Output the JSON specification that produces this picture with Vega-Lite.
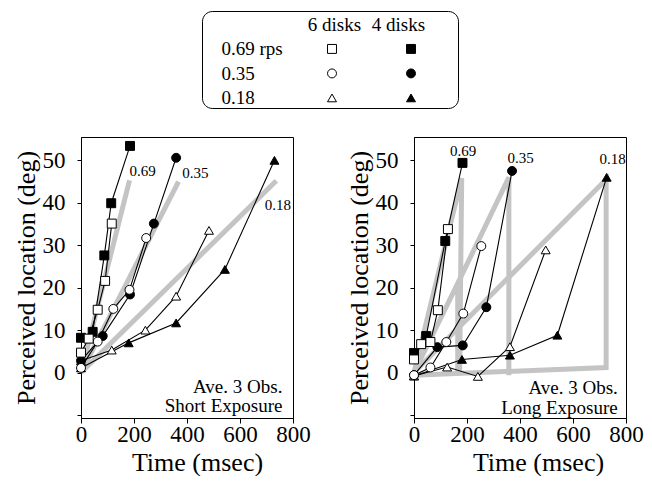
{
  "$schema": "https://vega.github.io/schema/vega-lite/v6.json",
  "padding": {"left": 12, "top": 10, "right": 5, "bottom": 0},
  "background": "white",
  "datasets": {
    "legend": [
      {"rps": "0.69", "disks": "6 disks"}, {"rps": "0.69", "disks": "4 disks"},
      {"rps": "0.35", "disks": "6 disks"}, {"rps": "0.35", "disks": "4 disks"},
      {"rps": "0.18", "disks": "6 disks"}, {"rps": "0.18", "disks": "4 disks"}
    ],
    "obs": [
      {"panel": "Short", "rps": "0.18", "disks": "4 disks", "t": 0, "loc": 1.1},
      {"panel": "Short", "rps": "0.18", "disks": "4 disks", "t": 180, "loc": 7.0},
      {"panel": "Short", "rps": "0.18", "disks": "4 disks", "t": 359, "loc": 11.7},
      {"panel": "Short", "rps": "0.18", "disks": "4 disks", "t": 543, "loc": 24.3},
      {"panel": "Short", "rps": "0.18", "disks": "4 disks", "t": 730, "loc": 50.0},
      {"panel": "Short", "rps": "0.18", "disks": "6 disks", "t": 0, "loc": 2.8},
      {"panel": "Short", "rps": "0.18", "disks": "6 disks", "t": 116, "loc": 5.3},
      {"panel": "Short", "rps": "0.18", "disks": "6 disks", "t": 243, "loc": 10.0},
      {"panel": "Short", "rps": "0.18", "disks": "6 disks", "t": 359, "loc": 18.0},
      {"panel": "Short", "rps": "0.18", "disks": "6 disks", "t": 483, "loc": 33.5},
      {"panel": "Short", "rps": "0.35", "disks": "4 disks", "t": 0, "loc": 2.8},
      {"panel": "Short", "rps": "0.35", "disks": "4 disks", "t": 82, "loc": 8.6},
      {"panel": "Short", "rps": "0.35", "disks": "4 disks", "t": 185, "loc": 18.4},
      {"panel": "Short", "rps": "0.35", "disks": "4 disks", "t": 275, "loc": 35.1},
      {"panel": "Short", "rps": "0.35", "disks": "4 disks", "t": 359, "loc": 50.6},
      {"panel": "Short", "rps": "0.35", "disks": "6 disks", "t": 0, "loc": 1.1},
      {"panel": "Short", "rps": "0.35", "disks": "6 disks", "t": 63, "loc": 7.3},
      {"panel": "Short", "rps": "0.35", "disks": "6 disks", "t": 122, "loc": 15.0},
      {"panel": "Short", "rps": "0.35", "disks": "6 disks", "t": 183, "loc": 19.5},
      {"panel": "Short", "rps": "0.35", "disks": "6 disks", "t": 246, "loc": 31.7},
      {"panel": "Short", "rps": "0.69", "disks": "4 disks", "t": 0, "loc": 8.2},
      {"panel": "Short", "rps": "0.69", "disks": "4 disks", "t": 44, "loc": 9.6},
      {"panel": "Short", "rps": "0.69", "disks": "4 disks", "t": 88, "loc": 27.6},
      {"panel": "Short", "rps": "0.69", "disks": "4 disks", "t": 114, "loc": 39.9},
      {"panel": "Short", "rps": "0.69", "disks": "4 disks", "t": 185, "loc": 53.4},
      {"panel": "Short", "rps": "0.69", "disks": "6 disks", "t": 0, "loc": 4.7},
      {"panel": "Short", "rps": "0.69", "disks": "6 disks", "t": 29, "loc": 8.0},
      {"panel": "Short", "rps": "0.69", "disks": "6 disks", "t": 63, "loc": 14.8},
      {"panel": "Short", "rps": "0.69", "disks": "6 disks", "t": 91, "loc": 21.6},
      {"panel": "Short", "rps": "0.69", "disks": "6 disks", "t": 116, "loc": 35.1},
      {"panel": "Long", "rps": "0.18", "disks": "4 disks", "t": 0, "loc": -0.8},
      {"panel": "Long", "rps": "0.18", "disks": "4 disks", "t": 181, "loc": 3.1},
      {"panel": "Long", "rps": "0.18", "disks": "4 disks", "t": 362, "loc": 4.1},
      {"panel": "Long", "rps": "0.18", "disks": "4 disks", "t": 541, "loc": 8.8},
      {"panel": "Long", "rps": "0.18", "disks": "4 disks", "t": 727, "loc": 46.0},
      {"panel": "Long", "rps": "0.18", "disks": "6 disks", "t": 0, "loc": -0.8},
      {"panel": "Long", "rps": "0.18", "disks": "6 disks", "t": 125, "loc": 1.3},
      {"panel": "Long", "rps": "0.18", "disks": "6 disks", "t": 241, "loc": -0.9},
      {"panel": "Long", "rps": "0.18", "disks": "6 disks", "t": 362, "loc": 6.1},
      {"panel": "Long", "rps": "0.18", "disks": "6 disks", "t": 497, "loc": 28.9},
      {"panel": "Long", "rps": "0.35", "disks": "4 disks", "t": 0, "loc": -0.6},
      {"panel": "Long", "rps": "0.35", "disks": "4 disks", "t": 88, "loc": 6.0},
      {"panel": "Long", "rps": "0.35", "disks": "4 disks", "t": 184, "loc": 6.4},
      {"panel": "Long", "rps": "0.35", "disks": "4 disks", "t": 273, "loc": 15.4},
      {"panel": "Long", "rps": "0.35", "disks": "4 disks", "t": 370, "loc": 47.5},
      {"panel": "Long", "rps": "0.35", "disks": "6 disks", "t": 0, "loc": -0.6},
      {"panel": "Long", "rps": "0.35", "disks": "6 disks", "t": 62, "loc": 1.2},
      {"panel": "Long", "rps": "0.35", "disks": "6 disks", "t": 122, "loc": 7.2},
      {"panel": "Long", "rps": "0.35", "disks": "6 disks", "t": 186, "loc": 13.9},
      {"panel": "Long", "rps": "0.35", "disks": "6 disks", "t": 254, "loc": 29.8},
      {"panel": "Long", "rps": "0.69", "disks": "4 disks", "t": 0, "loc": 4.6},
      {"panel": "Long", "rps": "0.69", "disks": "4 disks", "t": 46, "loc": 8.6},
      {"panel": "Long", "rps": "0.69", "disks": "4 disks", "t": 118, "loc": 31.0},
      {"panel": "Long", "rps": "0.69", "disks": "4 disks", "t": 183, "loc": 49.4},
      {"panel": "Long", "rps": "0.69", "disks": "6 disks", "t": 0, "loc": 3.1},
      {"panel": "Long", "rps": "0.69", "disks": "6 disks", "t": 27, "loc": 6.7},
      {"panel": "Long", "rps": "0.69", "disks": "6 disks", "t": 62, "loc": 7.2},
      {"panel": "Long", "rps": "0.69", "disks": "6 disks", "t": 90, "loc": 14.7},
      {"panel": "Long", "rps": "0.69", "disks": "6 disks", "t": 128, "loc": 33.8}
    ],
    "fit": [
      {"panel": "Short", "rps": "0.69", "i": 0, "t": 0, "loc": 0},
      {"panel": "Short", "rps": "0.69", "i": 1, "t": 183, "loc": 45.3},
      {"panel": "Short", "rps": "0.35", "i": 0, "t": 0, "loc": 0},
      {"panel": "Short", "rps": "0.35", "i": 1, "t": 368, "loc": 45.0},
      {"panel": "Short", "rps": "0.18", "i": 0, "t": 0, "loc": 0},
      {"panel": "Short", "rps": "0.18", "i": 1, "t": 737, "loc": 45.2},
      {"panel": "Long", "rps": "0.69", "i": 0, "t": 0, "loc": 0},
      {"panel": "Long", "rps": "0.69", "i": 1, "t": 180, "loc": 45.8},
      {"panel": "Long", "rps": "0.69", "i": 2, "t": 172, "loc": -0.6},
      {"panel": "Long", "rps": "0.35", "i": 0, "t": 0, "loc": 0},
      {"panel": "Long", "rps": "0.35", "i": 1, "t": 165, "loc": 21},
      {"panel": "Long", "rps": "0.35", "i": 2, "t": 165, "loc": -0.6},
      {"panel": "Long", "rps": "0.35", "i": 3, "t": 165, "loc": 21},
      {"panel": "Long", "rps": "0.35", "i": 4, "t": 358, "loc": 46},
      {"panel": "Long", "rps": "0.35", "i": 5, "t": 358, "loc": -0.6},
      {"panel": "Long", "rps": "0.18", "i": 0, "t": 0, "loc": 0},
      {"panel": "Long", "rps": "0.18", "i": 1, "t": 725, "loc": 45.5},
      {"panel": "Long", "rps": "0.18", "i": 2, "t": 725, "loc": 1.2},
      {"panel": "Long", "rps": "0.18", "i": 3, "t": 0, "loc": -0.6}
    ],
    "labels": [
      {"panel": "Short", "label": "0.69", "t": 183, "loc": 47.6},
      {"panel": "Short", "label": "0.35", "t": 382, "loc": 47.0},
      {"panel": "Short", "label": "0.18", "t": 693, "loc": 39.4},
      {"panel": "Long", "label": "0.69", "t": 136, "loc": 52.2},
      {"panel": "Long", "label": "0.35", "t": 353, "loc": 50.5},
      {"panel": "Long", "label": "0.18", "t": 700, "loc": 50.3}
    ],
    "notes": [
      {"panel": "Short", "label": "Ave. 3 Obs.", "t": 760, "loc": -3.3},
      {"panel": "Short", "label": "Short Exposure", "t": 760, "loc": -7.9},
      {"panel": "Long", "label": "Ave. 3 Obs.", "t": 769, "loc": -3.7},
      {"panel": "Long", "label": "Long Exposure", "t": 769, "loc": -8.3}
    ]
  },
  "vconcat": [
    {
      "hconcat": [
        {
          "width": 120,
          "height": 97,
          "view": {"stroke": null},
          "data": {"values": []},
          "mark": {"type": "point", "opacity": 0}
        },
        {
          "width": 256,
          "height": 97,
          "view": {"stroke": "black", "strokeWidth": 1, "cornerRadius": 10, "fill": "white"},
          "data": {"name": "legend"},
          "mark": {"type": "point", "filled": true, "stroke": "black", "strokeWidth": 1, "size": 80, "opacity": 1},
          "encoding": {
            "x": {"field": "disks", "type": "nominal",
              "scale": {"type": "point", "domain": ["6 disks", "4 disks"], "range": [130, 209], "padding": 0},
              "axis": {"orient": "top", "title": null, "domain": false, "ticks": false, "labelAngle": 0,
                "labelPadding": -13, "labelBaseline": "middle", "labelFontSize": 19,
                "labelOffset": {"condition": {"test": "datum.value === '4 disks'", "value": -13}, "value": 2}}},
            "y": {"field": "rps", "type": "nominal",
              "scale": {"type": "point", "domain": ["0.69", "0.35", "0.18"], "padding": 0.98, "align": 0.79},
              "axis": {"title": null, "domain": false, "ticks": false, "labelAlign": "left", "labelPadding": -19,
                "labelFontSize": 19, "minExtent": 0, "maxExtent": 0,
                "labelExpr": "datum.value === '0.69' ? '0.69 rps' : datum.label"}},
            "shape": {"field": "rps", "type": "nominal", "scale": {"domain": ["0.69", "0.35", "0.18"], "range": ["square", "circle", "triangle-up"]}, "legend": null},
            "fill": {"field": "disks", "type": "nominal", "scale": {"domain": ["6 disks", "4 disks"], "range": ["white", "black"]}, "legend": null}
          }
        }
      ],
      "spacing": 0
    },
    {
      "hconcat": [
        {
          "width": 212,
          "height": 281,
          "view": {"stroke": "black", "strokeWidth": 1},
          "encoding": {
            "x": {"field": "t", "type": "quantitative",
              "scale": {"domain": [0, 800], "nice": false, "zero": false},
              "axis": {"title": "Time (msec)", "values": [0, 200, 400, 600, 800], "tickSize": 5, "labelPadding": 0, "titlePadding": 3, "titleX": 116}},
            "y": {"field": "loc", "type": "quantitative",
              "scale": {"domain": [-10.7, 55.5], "nice": false, "zero": false},
              "axis": {"title": "Perceived location (deg)", "values": [-10, 0, 10, 20, 30, 40, 50], "tickSize": 4, "labelPadding": 12, "titlePadding": 3,
                "labelExpr": "datum.value < 0 ? '' : datum.label"}}
          },
          "layer": [
            {"data": {"name": "fit"}, "transform": [{"filter": "datum.panel === 'Short'"}],
              "mark": {"type": "line", "color": "#c4c4c4", "strokeWidth": 5, "strokeCap": "butt"},
              "encoding": {"detail": {"field": "rps"}, "order": {"field": "i", "type": "quantitative"}}},
            {"data": {"name": "obs"}, "transform": [{"filter": "datum.panel === 'Short'"}],
              "mark": {"type": "line", "color": "black", "strokeWidth": 1.1},
              "encoding": {"detail": [{"field": "rps"}, {"field": "disks"}], "order": {"field": "t", "type": "quantitative"}}},
            {"data": {"name": "obs"}, "transform": [{"filter": "datum.panel === 'Short'"}],
              "mark": {"type": "point", "filled": true, "stroke": "black", "strokeWidth": 1, "size": 80, "opacity": 1},
              "encoding": {
                "shape": {"field": "rps", "type": "nominal", "scale": {"domain": ["0.69", "0.35", "0.18"], "range": ["square", "circle", "triangle-up"]}, "legend": null},
                "fill": {"field": "disks", "type": "nominal", "scale": {"domain": ["6 disks", "4 disks"], "range": ["white", "black"]}, "legend": null}}},
            {"data": {"name": "labels"}, "transform": [{"filter": "datum.panel === 'Short'"}],
              "mark": {"type": "text", "align": "left", "baseline": "middle", "fontSize": 15, "font": "Liberation Serif", "color": "black"},
              "encoding": {"text": {"field": "label"}}},
            {"data": {"name": "notes"}, "transform": [{"filter": "datum.panel === 'Short'"}],
              "mark": {"type": "text", "align": "right", "baseline": "middle", "fontSize": 19, "font": "Liberation Serif", "color": "black"},
              "encoding": {"text": {"field": "label"}}}
          ]
        },
        {
          "width": 212,
          "height": 281,
          "view": {"stroke": "black", "strokeWidth": 1},
          "encoding": {
            "x": {"field": "t", "type": "quantitative",
              "scale": {"domain": [0, 800], "nice": false, "zero": false},
              "axis": {"title": "Time (msec)", "values": [0, 200, 400, 600, 800], "tickSize": 5, "labelPadding": 0, "titlePadding": 3, "titleX": 124}},
            "y": {"field": "loc", "type": "quantitative",
              "scale": {"domain": [-10.7, 55.5], "nice": false, "zero": false},
              "axis": {"title": "Perceived location (deg)", "values": [-10, 0, 10, 20, 30, 40, 50], "tickSize": 4, "labelPadding": 12, "titlePadding": 3,
                "labelExpr": "datum.value < 0 ? '' : datum.label"}}
          },
          "layer": [
            {"data": {"name": "fit"}, "transform": [{"filter": "datum.panel === 'Long'"}],
              "mark": {"type": "line", "color": "#c4c4c4", "strokeWidth": 5, "strokeCap": "butt"},
              "encoding": {"detail": {"field": "rps"}, "order": {"field": "i", "type": "quantitative"}}},
            {"data": {"name": "obs"}, "transform": [{"filter": "datum.panel === 'Long'"}],
              "mark": {"type": "line", "color": "black", "strokeWidth": 1.1},
              "encoding": {"detail": [{"field": "rps"}, {"field": "disks"}], "order": {"field": "t", "type": "quantitative"}}},
            {"data": {"name": "obs"}, "transform": [{"filter": "datum.panel === 'Long'"}],
              "mark": {"type": "point", "filled": true, "stroke": "black", "strokeWidth": 1, "size": 80, "opacity": 1},
              "encoding": {
                "shape": {"field": "rps", "type": "nominal", "scale": {"domain": ["0.69", "0.35", "0.18"], "range": ["square", "circle", "triangle-up"]}, "legend": null},
                "fill": {"field": "disks", "type": "nominal", "scale": {"domain": ["6 disks", "4 disks"], "range": ["white", "black"]}, "legend": null}}},
            {"data": {"name": "labels"}, "transform": [{"filter": "datum.panel === 'Long'"}],
              "mark": {"type": "text", "align": "left", "baseline": "middle", "fontSize": 15, "font": "Liberation Serif", "color": "black"},
              "encoding": {"text": {"field": "label"}}},
            {"data": {"name": "notes"}, "transform": [{"filter": "datum.panel === 'Long'"}],
              "mark": {"type": "text", "align": "right", "baseline": "middle", "fontSize": 19, "font": "Liberation Serif", "color": "black"},
              "encoding": {"text": {"field": "label"}}}
          ]
        }
      ],
      "spacing": 34
    }
  ],
  "spacing": 27,
  "resolve": {"scale": {"x": "independent", "y": "independent", "shape": "independent", "fill": "independent"}},
  "config": {
    "font": "Liberation Serif",
    "axis": {
      "grid": false,
      "labelFont": "Liberation Serif",
      "titleFont": "Liberation Serif",
      "labelFontSize": 23,
      "titleFontSize": 26,
      "titleFontWeight": "normal",
      "labelColor": "black",
      "titleColor": "black",
      "domainColor": "black",
      "tickColor": "black",
      "labelFlush": false,
      "labelOverlap": false
    },
    "view": {"stroke": "black"}
  }
}
